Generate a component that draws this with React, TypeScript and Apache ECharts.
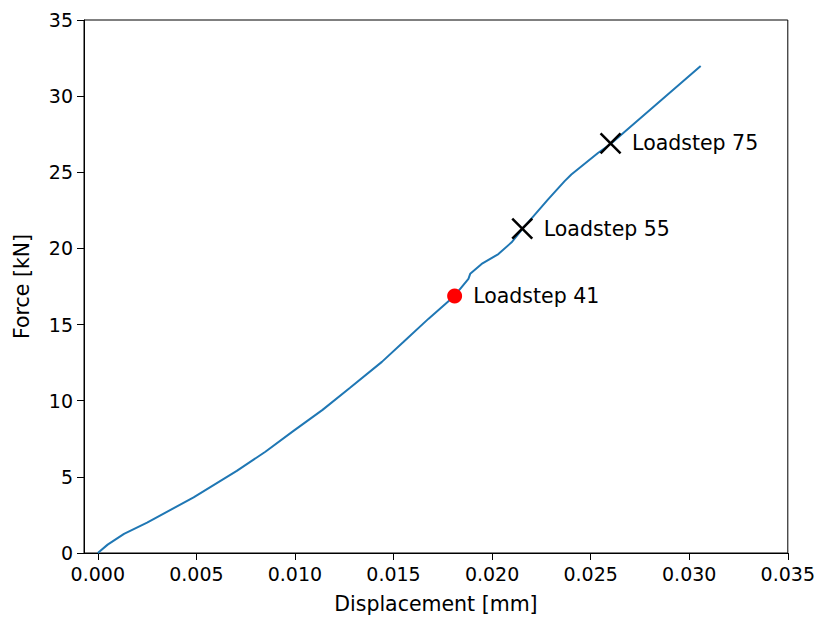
import React, { useEffect, useRef } from "react";
import * as echarts from "echarts";

const curveX = [0, 0.0005, 0.00133, 0.0025, 0.00486, 0.00705, 0.0085, 0.00991, 0.0114, 0.01278, 0.01441, 0.0155, 0.01678, 0.01809, 0.0188, 0.01889, 0.01947, 0.02032, 0.02099, 0.02153, 0.02284, 0.02368, 0.02402, 0.02537, 0.02601, 0.03058];
const curveY = [0, 0.55, 1.26, 2.0, 3.65, 5.39, 6.65, 8.0, 9.4, 10.83, 12.55, 13.85, 15.39, 16.88, 18.0, 18.33, 18.98, 19.63, 20.4, 21.27, 23.22, 24.42, 24.85, 26.27, 26.86, 31.98];

const redX = [0.0181];
const redY = [16.88];
const redLabels = ["Loadstep 41"];
const crossX = [0.02153, 0.02601];
const crossY = [21.3, 26.9];
const crossLabels = ["Loadstep 55", "Loadstep 75"];

const xTicks = [0, 0.005, 0.01, 0.015, 0.02, 0.025, 0.03, 0.035];

const FONT = "DejaVu Sans";
const FS_TICK = 19;
const FS_TEXT = 20.5;

export default function App() {
  const ref = useRef<HTMLDivElement>(null);
  useEffect(() => {
    const chart = echarts.init(ref.current!, undefined, { renderer: "svg" });
    chart.setOption({
      animation: false,
      backgroundColor: "#fff",
      textStyle: { fontFamily: FONT },
      grid: { left: 84, top: 20, width: 707, height: 536, show: true, borderColor: "#000", borderWidth: 1, backgroundColor: "transparent" },
      xAxis: {
        type: "value",
        min: -0.0007,
        max: 0.035,
        name: "Displacement [mm]",
        nameLocation: "middle",
        nameGap: 40,
        nameTextStyle: { fontFamily: FONT, fontSize: FS_TEXT, color: "#000" },
        axisLine: { onZero: false, lineStyle: { color: "#000", width: 1 } },
        axisTick: { show: true, length: 7, customValues: xTicks, lineStyle: { color: "#000" } },
        axisLabel: { customValues: xTicks, formatter: (v: number) => v.toFixed(3), fontFamily: FONT, fontSize: FS_TICK, color: "#000", margin: 11 },
        splitLine: { show: false },
      },
      yAxis: {
        type: "value",
        min: 0,
        max: 35,
        interval: 5,
        name: "Force [kN]",
        nameLocation: "middle",
        nameGap: 52,
        nameTextStyle: { fontFamily: FONT, fontSize: FS_TEXT, color: "#000" },
        axisLine: { show: true, onZero: false, lineStyle: { color: "#000", width: 1 } },
        axisTick: { show: true, length: 7, lineStyle: { color: "#000" } },
        axisLabel: { fontFamily: FONT, fontSize: FS_TICK, color: "#000", margin: 11 },
        splitLine: { show: false },
      },
      series: [
        {
          type: "line",
          data: curveX.map((x, i) => [x, curveY[i]]),
          showSymbol: false,
          lineStyle: { color: "#1f77b4", width: 2 },
          z: 2,
        },
        {
          type: "scatter",
          data: redX.map((x, i) => [x, redY[i], redLabels[i]]),
          symbol: "circle",
          symbolSize: 15,
          itemStyle: { color: "#ff0000", opacity: 1 },
          label: { show: true, position: "right", distance: 11, formatter: (p: any) => p.data[2], fontFamily: FONT, fontSize: FS_TEXT, color: "#000" },
          z: 3,
        },
        {
          type: "scatter",
          data: crossX.map((x, i) => [x, crossY[i], crossLabels[i]]),
          symbol: "path://M0,0L10,10M10,0L0,10",
          symbolSize: 20,
          itemStyle: { color: "none", borderColor: "#000", borderWidth: 2.5, opacity: 1 },
          label: { show: true, position: "right", distance: 9, formatter: (p: any) => p.data[2], fontFamily: FONT, fontSize: FS_TEXT, color: "#000" },
          z: 3,
        },
      ],
    });
    return () => chart.dispose();
  }, []);
  return <div ref={ref} style={{ position: "fixed", left: 0, top: 0, width: 818, height: 619 }} />;
}
